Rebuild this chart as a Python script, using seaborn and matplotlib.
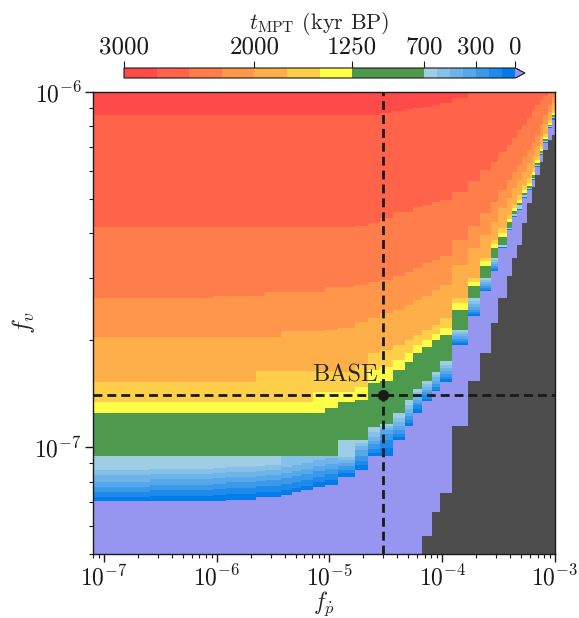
import numpy as np
import matplotlib
matplotlib.use("Agg")
import matplotlib.pyplot as plt
import seaborn as sns
from matplotlib.colors import ListedColormap, BoundaryNorm
from matplotlib.ticker import NullFormatter, FuncFormatter

sns.set_theme(style="ticks")
plt.rcParams.update({
    "font.family": "serif",
    "font.serif": ["cmr10"],
    "mathtext.fontset": "cm",
    "axes.formatter.use_mathtext": True,
    "axes.unicode_minus": False,
})

# ---------------- data ----------------
# column edges in f_pdot
fp_edges = np.array([8.0e-8, 2.56e-7, 9.25e-7, 1.21e-6, 2.23e-6, 2.68e-6, 3.71e-6, 4.64e-6,
                     5.58e-6, 7.12e-6, 9.10e-6, 1.19e-5, 1.68e-5, 2.19e-5, 2.80e-5, 3.65e-5,
                     4.66e-5, 5.48e-5, 6.59e-5, 8.09e-5, 9.52e-5, 1.22e-4, 1.69e-4, 2.15e-4,
                     2.70e-4, 3.11e-4, 3.74e-4, 4.14e-4, 4.58e-4, 5.08e-4, 5.62e-4, 6.22e-4,
                     6.62e-4, 7.33e-4, 7.80e-4, 8.63e-4, 9.37e-4, 1.0e-3])

# f_v (x 1e-7) below which t_MPT drops under each level, per column
fv_2750 = np.array([8.61]*14 + [8.73, 8.84, 8.96, 9.01, 9.07, 9.19, 9.31, 9.62] + [10.5]*15)
fv_2500 = np.array([4.16]*12 + [4.19, 4.28, 4.42, 4.59, 4.59, 4.74, 4.81, 4.90, 4.96, 5.23, 5.61,
                                6.03, 6.35, 6.78, 7.09, 7.42, 7.82, 8.07, 8.45, 8.90, 9.19, 9.49,
                                9.75, 9.94, 10.5])
fv_2250 = np.array([2.63, 2.63, 2.66, 2.66, 2.66, 2.73, 2.73, 2.73, 2.73, 2.73, 2.82, 2.82, 2.86,
                    2.92, 2.95, 3.03, 3.11, 3.19, 3.30, 3.36, 3.45, 3.83, 4.19, 4.56, 4.90, 5.30,
                    5.65, 5.95, 6.23, 6.56, 6.86, 7.23, 7.56, 8.07, 8.61, 9.19, 9.68])
fv_2000 = np.array([2.04]*6 + [2.12]*4 + [2.14, 2.17, 2.25, 2.31, 2.38, 2.43, 2.51, 2.59, 2.66,
                                         2.77, 2.86, 3.26, 3.64, 3.96, 4.30, 4.71, 5.03, 5.37,
                                         5.65, 5.95, 6.31, 6.64, 7.05, 7.51, 8.13, 8.78, 9.31])
fv_1750 = np.array([1.53]*4 + [1.64]*7 + [1.63, 1.70, 1.84, 1.88, 1.94, 2.00, 2.07, 2.14, 2.21,
                                         2.31, 2.63, 2.99, 3.41, 3.83, 4.14, 4.50, 4.81, 5.13,
                                         5.47, 5.72, 6.11, 6.56, 7.05, 7.61, 8.34, 8.90])
fv_1500 = np.array([1.34]*9 + [1.43, 1.43, 1.43, 1.48, 1.65, 1.68, 1.76, 1.84, 1.94, 2.00, 2.08,
                               2.17, 2.54, 2.92, 3.34, 3.73, 4.01, 4.39, 4.71, 4.96, 5.30, 5.54,
                               5.95, 6.43, 6.91, 7.47, 8.18, 8.73])
fv_1250 = np.array([1.25]*10 + [1.29, 1.34, 1.36, 1.52, 1.54, 1.65, 1.74, 1.84, 1.91, 2.00, 2.07,
                                2.43, 2.84, 3.24, 3.64, 3.90, 4.30, 4.62, 4.87, 5.20, 5.44, 5.84,
                                6.31, 6.82, 7.37, 8.07, 8.61])
fv_700 = np.array([0.943]*11 + [1.05, 1.05, 1.14, 1.16, 1.25, 1.36, 1.46, 1.54, 1.63, 1.75, 2.14,
                                2.63, 2.99, 3.41, 3.71, 4.14, 4.53, 4.81, 5.13, 5.37, 5.72, 6.23,
                                6.73, 7.28, 8.02, 8.50])
fv_600 = np.array([0.861, 0.867, 0.873, 0.878, 0.884, 0.890, 0.943, 0.943, 0.943, 0.943, 0.943,
                   0.937, 1.03, 1.10, 1.15, 1.21, 1.31, 1.43, 1.51, 1.60, 1.70, 2.11, 2.58, 2.95,
                   3.36, 3.66, 4.11, 4.47, 4.68, 5.07, 5.33, 5.69, 6.19, 6.69, 7.23, 7.97, 8.45])
fv_500 = np.array([0.834, 0.839, 0.845, 0.850, 0.856, 0.861, 0.878, 0.890, 0.902, 0.919, 0.931,
                   0.919, 1.01, 1.07, 1.13, 1.18, 1.28, 1.39, 1.48, 1.58, 1.67, 2.08, 2.53, 2.92,
                   3.32, 3.66, 4.11, 4.47, 4.68, 5.07, 5.33, 5.69, 6.19, 6.69, 7.23, 7.97, 8.45])
fv_400 = np.array([0.797, 0.813, 0.818, 0.823, 0.829, 0.834, 0.845, 0.856, 0.867, 0.884, 0.896,
                   0.902, 0.981, 1.04, 1.12, 1.15, 1.25, 1.36, 1.45, 1.54, 1.64, 2.06, 2.48, 2.88,
                   3.28, 3.66, 4.11, 4.47, 4.68, 5.07, 5.33, 5.69, 6.19, 6.69, 7.23, 7.97, 8.45])
fv_300 = np.array([0.771, 0.782, 0.787, 0.797, 0.802, 0.807, 0.818, 0.829, 0.839, 0.856, 0.867,
                   0.884, 0.943, 1.02, 1.09, 1.12, 1.22, 1.33, 1.43, 1.51, 1.61, 2.02, 2.43, 2.84,
                   3.24, 3.66, 4.11, 4.47, 4.68, 5.07, 5.33, 5.69, 6.19, 6.69, 7.23, 7.97, 8.45])
fv_200 = np.array([0.747, 0.756, 0.761, 0.766, 0.776, 0.776, 0.787, 0.797, 0.807, 0.823, 0.839,
                   0.861, 0.913, 0.988, 1.05, 1.09, 1.19, 1.31, 1.40, 1.48, 1.58, 1.99, 2.40, 2.81,
                   3.19, 3.66, 4.11, 4.47, 4.68, 5.07, 5.33, 5.69, 6.19, 6.69, 7.23, 7.97, 8.45])
fv_100 = np.array([0.723, 0.728, 0.732, 0.737, 0.747, 0.747, 0.756, 0.766, 0.776, 0.797, 0.807,
                   0.845, 0.890, 0.962, 0.994, 1.07, 1.17, 1.28, 1.37, 1.45, 1.56, 1.96, 2.37, 2.77,
                   3.15, 3.66, 4.11, 4.47, 4.68, 5.07, 5.33, 5.69, 6.19, 6.69, 7.23, 7.97, 8.45])
fv_0 = np.array([0.705, 0.705, 0.705, 0.709, 0.723, 0.723, 0.732, 0.747, 0.756, 0.771, 0.782,
                 0.823, 0.861, 0.943, 0.943, 1.05, 1.15, 1.25, 1.35, 1.44, 1.53, 1.94, 2.34, 2.75,
                 3.13, 3.64, 4.09, 4.44, 4.65, 5.03, 5.30, 5.65, 6.15, 6.64, 7.18, 7.92, 8.34])
# below this f_v: no glaciation transition at all (undefined)
fv_none = np.array([0.45]*18 + [0.562, 0.655, 0.742, 1.15, 1.54, 1.84, 2.24, 2.63, 3.03, 3.41,
                                3.71, 4.28, 4.87, 5.40, 5.84, 6.35, 6.86, 7.32, 7.56])

# representative t_MPT (kyr BP) of each class, top to bottom
t_class = np.array([2875, 2625, 2375, 2125, 1875, 1625, 1375, 975,
                    650, 550, 450, 350, 250, 150, 50, -50, np.nan])

level_edges = [3000, 2750, 2500, 2250, 2000, 1750, 1500, 1250, 700,
               600, 500, 400, 300, 200, 100, 0]
level_colors = ["#FF4A4A", "#FF634A", "#FF7D4A", "#FF964A", "#FFAF4A", "#FFCF4A", "#FFFF4A",
                "#4D994D", "#9ECEE6", "#84C0E8", "#6EB4E8", "#55A8EA", "#3C98EA", "#1E8AEA",
                "#007DEA"]
cbar_ticks = [3000, 2000, 1250, 700, 300, 0]

fp_base, fv_base = 3e-5, 1.4e-7

# ---------------- grid ----------------
boundaries = np.vstack([fv_2750, fv_2500, fv_2250, fv_2000, fv_1750, fv_1500, fv_1250, fv_700,
                        fv_600, fv_500, fv_400, fv_300, fv_200, fv_100, fv_0, fv_none]) * 1e-7
fv_edges = np.logspace(np.log10(5e-8), -6, 463)
fv_mid = np.sqrt(fv_edges[:-1] * fv_edges[1:])
cls = (fv_mid[:, None, None] < boundaries.T[None, :, :]).sum(axis=2)
t_grid = t_class[cls]
val = np.ma.masked_invalid(-t_grid)

cmap = ListedColormap(level_colors)
cmap.set_over("#9696F0")
cmap.set_bad("#4D4D4D")
bnds = -np.array(level_edges, dtype=float)
norm = BoundaryNorm(bnds, cmap.N)

# ---------------- figure ----------------
fig = plt.figure(figsize=(5.79, 6.18), dpi=100)
ax = fig.add_axes([93/579, 1 - 554/618, 462/579, 462/618])
mesh = ax.pcolormesh(fp_edges, fv_edges, val, cmap=cmap, norm=norm, shading="flat")
ax.set_xscale("log")
ax.set_yscale("log")
ax.set_xlim(8e-8, 1e-3)
ax.set_ylim(5e-8, 1e-6)

ax.axvline(fp_base, color="k", ls="--", lw=2, dashes=(3.2, 1.8))
ax.axhline(fv_base, color="k", ls="--", lw=2, dashes=(3.2, 1.8))
sns.scatterplot(x=[fp_base], y=[fv_base], color="k", s=55, edgecolor="k", ax=ax, zorder=5)
ax.annotate("BASE", xy=(fp_base, fv_base), xytext=(-4, 6), textcoords="offset points",
            ha="right", va="bottom", fontsize=17.5)

ax.set_xlabel(r"$f_{\dot{p}}$", fontsize=17, labelpad=-1)
ax.set_ylabel(r"$f_v$", fontsize=18, labelpad=-2)
ax.tick_params(axis="both", which="major", labelsize=17, length=6, width=1, direction="out",
               colors="k", pad=2)
ax.tick_params(axis="both", which="minor", length=3, width=0.8, direction="out", colors="k")
ax.yaxis.set_minor_formatter(NullFormatter())
ax.xaxis.set_minor_formatter(NullFormatter())
for s in ax.spines.values():
    s.set_color("k")
    s.set_linewidth(1)

cax = fig.add_axes([124/579, 1 - 78/618, (525 - 124)/579, 10/618])
cb = fig.colorbar(mesh, cax=cax, orientation="horizontal", extend="max",
                  spacing="proportional", extendfrac=0.025,
                  ticks=[-t for t in cbar_ticks])
cb.ax.xaxis.set_ticks_position("top")
cb.ax.xaxis.set_label_position("top")
cb.ax.xaxis.set_major_formatter(FuncFormatter(lambda v, p: f"{abs(v):.0f}"))
cb.ax.tick_params(labelsize=18, length=5, width=0.8, colors="k", pad=2)
cb.ax.minorticks_off()
cb.outline.set_edgecolor("k")
cb.outline.set_linewidth(0.8)
cb.set_label(r"$t_{\rm MPT}$ (kyr BP)", fontsize=16, labelpad=5)

fig.savefig("out.png", dpi=100)
